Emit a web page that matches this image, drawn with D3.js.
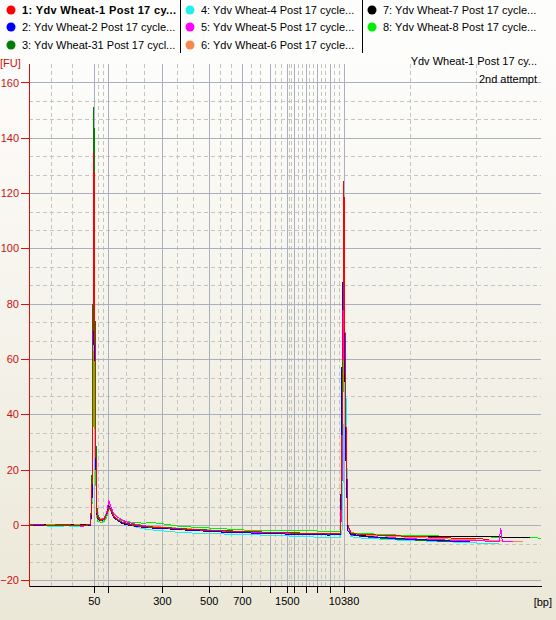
<!DOCTYPE html>
<html>
<head>
<meta charset="utf-8">
<script src="https://cdn.jsdelivr.net/npm/d3@7"></script>
<style>
  html, body { margin: 0; padding: 0; background: #ffffff; }
  svg { display: block; }
  text { font-family: "Liberation Sans", Arial, sans-serif; }
</style>
</head>
<body>
<svg id="chart" width="556" height="620"></svg>
<script>
// Electropherogram overlay: 8 samples, DNA ladder sizes on the x axis (migration time), fluorescence in FU.

// Ladder fragment sizes (bp) and their migration times (s)
const ladderBp   = [50, 100, 300, 500, 700, 1000, 1500, 2000, 3000, 5000, 7000, 10380];
const ladderTime = [28.04, 29.79, 36.54, 42.41, 46.54, 50.04, 52.16, 53.04, 54.54, 55.91, 57.5, 59.25];
const labeledBp  = [50, 300, 500, 700, 1500, 10380];

const fuTicks = [-20, 0, 20, 40, 60, 80, 100, 120, 140, 160];

// Sampling times (s) shared by every trace
const timeSec = [
  20.0, 21.5, 23.0, 24.5, 26.0, 27.0, 27.65, 27.85, 28.05, 28.25, 28.45,
  28.9, 29.3, 29.65, 29.92, 30.2, 30.5, 31.0, 31.6, 32.3, 33.2, 34.2, 35.5, 37.0,
  39.0, 41.5, 44.0, 47.0, 50.0, 53.0, 55.5, 57.5,
  58.9, 59.1, 59.3, 59.5, 59.8, 60.2,
  61.5, 63.5, 66.0, 69.0, 72.0, 75.0, 77.5, 78.7, 78.9, 79.1, 80.4, 81.7, 82.6, 84.0
];

// Fluorescence (FU) per sample at each sampling time; null = trace ended
const wheat1 = [
  0.0, 0.1, -0.2, 0.0, -0.3, -0.1, 0.2, 18, 135, 34, 3.0,
  1.7, 2.0, 3.6, 6.4, 5.1, 3.2, 1.9, 1.0, 0.4, -0.2, -0.6, -0.8, -1.0,
  -1.4, -1.8, -2.1, -2.3, -2.6, -2.8, -3.0, -3.1,
  -3.1, 40, 124.5, 45, 0.0, -3.0,
  -3.4, -3.6, -3.9, -4.2, -4.6, -4.9, -5.1, null, null, null, null, null, null, null
];
const wheat2 = [
  -0.2, 0.0, -0.1, -0.3, 0.0, -0.2, 0.0, 12, 130, 28, 2.5,
  1.5, 1.9, 3.8, 7.0, 5.0, 2.9, 1.6, 0.7, 0.1, -0.4, -0.8, -1.1, -1.3,
  -1.7, -2.1, -2.5, -2.8, -3.1, -3.3, -3.5, -3.6,
  -3.4, 70, 110, 30, -2.0, -3.4,
  -4.0, -4.4, -4.9, -5.3, -5.7, -6.0, null, null, null, null, null, null, null, null
];
const wheat31 = [
  0.1, -0.1, 0.0, 0.2, -0.2, 0.0, 0.3, 22, 151, 40, 4.0,
  1.9, 2.2, 3.9, 6.2, 5.3, 3.4, 2.0, 1.1, 0.5, 0.0, -0.4, -0.7, -0.9,
  -1.3, -1.7, -2.0, -2.3, -2.6, -2.9, -3.1, -3.3,
  -3.2, 60, 105, 35, -2.0, -3.5,
  -4.1, -4.6, -5.1, -5.5, -5.9, -6.1, null, null, null, null, null, null, null, null
];
const wheat4 = [
  -0.3, -0.2, -0.5, -0.3, -0.4, -0.2, 0.0, 10, 128, 30, 2.6,
  1.5, 1.8, 3.4, 6.0, 4.8, 3.1, 1.8, 0.9, 0.2, -0.6, -1.3, -1.8, -2.2,
  -2.7, -3.0, -3.2, -3.4, -3.7, -4.0, -4.3, -4.5,
  -4.4, -1.0, 35, 59, -1.5, -4.2,
  -4.7, -5.0, -5.4, -5.7, -6.0, -6.4, -6.6, -6.7, null, null, null, null, null, null
];
const wheat5 = [
  0.0, -0.2, -0.4, -0.2, -0.5, -0.3, 0.0, 14, 147, 36, 3.2,
  2.0, 2.4, 4.6, 8.8, 6.4, 4.3, 2.8, 1.8, 1.0, 0.4, -0.2, -0.7, -1.0,
  -1.5, -1.9, -2.3, -2.6, -2.9, -3.2, -3.4, -3.5,
  -3.4, 20, 108, 52, -1.0, -3.8,
  -4.0, -4.3, -4.7, -5.1, -5.4, -5.6, -5.8, -5.8, -1.0, -5.9, -5.9, null, null, null
];
const wheat6 = [
  0.1, 0.0, -0.3, 0.1, -0.2, 0.0, 0.1, 16, 138, 35, 3.5,
  2.1, 2.5, 4.4, 7.8, 6.2, 4.4, 2.9, 1.9, 1.1, 0.4, -0.1, -0.5, -0.8,
  -1.2, -1.6, -2.0, -2.3, -2.6, -2.8, -3.0, -3.1,
  -3.0, 35, 116, 50, -1.0, -3.0,
  -3.5, -3.8, -4.2, -4.6, -5.0, -5.3, -5.6, -5.7, -5.7, -5.8, -5.9, -5.9, null, null
];
const wheat7 = [
  0.0, 0.1, -0.1, 0.1, 0.0, 0.1, 0.2, 20, 145, 38, 3.3,
  1.8, 2.1, 3.9, 7.3, 5.4, 3.0, 1.6, 0.6, 0.0, -0.4, -0.7, -1.0, -1.2,
  -1.6, -2.0, -2.3, -2.5, -2.8, -3.0, -3.2, -3.3,
  -3.2, 55, 98, 30, -1.5, -3.2,
  -3.6, -3.8, -4.0, -4.1, -4.2, -4.3, -4.3, -4.3, -4.3, -4.4, -4.4, -4.4, -4.5, null
];
const wheat8 = [
  0.2, 0.0, 0.1, -0.1, 0.2, 0.0, 0.3, 9, 68, 20, 1.5,
  1.0, 1.2, 2.8, 5.9, 4.8, 3.3, 2.2, 1.5, 1.2, 0.9, 0.7, 0.9, 0.3,
  -0.5, -0.9, -1.3, -1.8, -1.8, -2.0, -2.1, -2.3,
  -2.2, 30, 70, 35, -1.0, -2.8,
  -3.0, -3.3, -3.6, -3.8, -4.0, -4.2, -4.3, -4.4, -4.4, -4.4, -4.5, -4.5, -4.6, -4.7
];

const sampleLabels = [
  "1: Ydv Wheat-1 Post 17 cy...",
  "2: Ydv Wheat-2 Post 17 cycle...",
  "3: Ydv Wheat-31 Post 17 cycl...",
  "4: Ydv Wheat-4 Post 17 cycle...",
  "5: Ydv Wheat-5 Post 17 cycle...",
  "6: Ydv Wheat-6 Post 17 cycle...",
  "7: Ydv Wheat-7 Post 17 cycle...",
  "8: Ydv Wheat-8 Post 17 cycle..."
];
const sampleColors = ["#ff0000", "#0000ff", "#008000", "#22eeee", "#ff00ff", "#f5884c", "#000000", "#00f000"];
const sampleValues = [wheat1, wheat2, wheat31, wheat4, wheat5, wheat6, wheat7, wheat8];

const titleLines = ["Ydv Wheat-1 Post 17 cy...", "2nd attempt"];

// ---- layout ----
const W = 556, H = 620;
const plot = { left: 29, right: 541, top: 64, bottom: 586 };

const svg = d3.select("#chart");

const defs = svg.append("defs");
const bg = defs.append("linearGradient").attr("id", "bg").attr("x1", 0).attr("y1", 0).attr("x2", 0).attr("y2", 1);
bg.append("stop").attr("offset", "0%").attr("stop-color", "#ffffff");
bg.append("stop").attr("offset", "100%").attr("stop-color", "#ebe8d8");
svg.append("rect").attr("width", W).attr("height", H).attr("fill", "url(#bg)");

defs.append("clipPath").attr("id", "plotClip").append("rect")
  .attr("x", plot.left).attr("y", plot.top - 2)
  .attr("width", plot.right - plot.left).attr("height", plot.bottom - plot.top + 2);

const x = d3.scaleLinear().domain([20, 84]).range([plot.left + 0.5, plot.right + 0.5]);
const y = d3.scaleLinear().domain([-22.2, 166.5]).range([plot.bottom + 0.5, plot.top + 0.5]);

// ---- grid ----
const grid = svg.append("g").attr("shape-rendering", "crispEdges");

// minor lines split every interval between neighbouring major lines into thirds
function thirds(bounds) {
  const out = [];
  for (let i = 0; i < bounds.length - 1; i++) {
    const a = bounds[i], b = bounds[i + 1];
    out.push(a + (b - a) / 3, a + 2 * (b - a) / 3);
  }
  return out;
}
const xMinor = thirds([x.domain()[0], ...ladderTime, x.domain()[1]]);
const yMinor = thirds(fuTicks).filter(v => v > y.domain()[0] && v < y.domain()[1]);

grid.selectAll(".xminor").data(xMinor).join("line")
  .attr("x1", d => Math.round(x(d)) + 0.5).attr("x2", d => Math.round(x(d)) + 0.5)
  .attr("y1", plot.top).attr("y2", plot.bottom)
  .attr("stroke", "#c4c4c0").attr("stroke-dasharray", "4,3");
grid.selectAll(".yminor").data(yMinor).join("line")
  .attr("x1", plot.left).attr("x2", plot.right)
  .attr("y1", d => Math.round(y(d)) + 0.5).attr("y2", d => Math.round(y(d)) + 0.5)
  .attr("stroke", "#c4c4c0").attr("stroke-dasharray", "4,3");
grid.selectAll(".xmajor").data(ladderTime).join("line")
  .attr("x1", d => Math.round(x(d)) + 0.5).attr("x2", d => Math.round(x(d)) + 0.5)
  .attr("y1", plot.top).attr("y2", plot.bottom)
  .attr("stroke", "#a9b1be");
grid.selectAll(".ymajor").data(fuTicks).join("line")
  .attr("x1", plot.left).attr("x2", plot.right)
  .attr("y1", d => Math.round(y(d)) + 0.5).attr("y2", d => Math.round(y(d)) + 0.5)
  .attr("stroke", "#a9b1be");

// ---- traces (sample 1 drawn last, on top) ----
const traces = svg.append("g").attr("clip-path", "url(#plotClip)");
for (let s = sampleValues.length - 1; s >= 0; s--) {
  const vals = sampleValues[s];
  const pts = timeSec.map((t, i) => [t, vals[i]]);
  const line = d3.line()
    .defined(d => d[1] !== null && d[1] !== undefined)
    .x(d => x(d[0])).y(d => y(d[1]));
  traces.append("path")
    .attr("d", line(pts))
    .attr("fill", "none")
    .attr("stroke", sampleColors[s])
    .attr("stroke-width", 1)
    .attr("shape-rendering", "crispEdges");
}

// ---- axes ----
const xAxis = d3.axisBottom(x)
  .tickValues(ladderTime)
  .tickFormat((t, i) => labeledBp.includes(ladderBp[i]) ? String(ladderBp[i]) : "")
  .tickSize(7).tickSizeOuter(0).tickPadding(4);
const gx = svg.append("g").attr("transform", `translate(0,${plot.bottom})`)
  .attr("shape-rendering", "crispEdges").call(xAxis);
gx.select(".domain").attr("stroke", "#000").attr("d", `M${plot.left},0.5H${plot.right + 1}`);
gx.selectAll(".tick line").attr("stroke", "#000");
gx.selectAll(".tick text").attr("fill", "#000").attr("font-size", 11)
  .attr("font-family", "Liberation Sans, Arial, sans-serif");

const yAxis = d3.axisLeft(y)
  .tickValues(fuTicks)
  .tickSize(8).tickSizeOuter(0).tickPadding(2);
const gy = svg.append("g").attr("transform", `translate(${plot.left},0)`)
  .attr("shape-rendering", "crispEdges").call(yAxis);
gy.select(".domain").attr("stroke", "#dd1010").attr("d", `M0.5,${plot.top}V${plot.bottom + 1}`);
gy.selectAll(".tick line").attr("stroke", "#dd1010");
gy.selectAll(".tick text").attr("fill", "#cc1010").attr("font-size", 11)
  .attr("font-family", "Liberation Sans, Arial, sans-serif");

svg.append("text").attr("x", 0).attr("y", 67).attr("font-size", 11).attr("fill", "#cc1010").text("[FU]");
svg.append("text").attr("x", 552).attr("y", 606).attr("font-size", 11).attr("fill", "#000")
  .attr("text-anchor", "end").text("[bp]");

svg.selectAll(".title").data(titleLines).join("text")
  .attr("x", 537).attr("y", (d, i) => 65 + i * 18)
  .attr("text-anchor", "end").attr("font-size", 11).attr("fill", "#000")
  .text(d => d);

// ---- legend ----
const legend = svg.append("g");
legend.append("rect").attr("x", 0).attr("y", 0).attr("width", W).attr("height", 55).attr("fill", "#fdfdfc");
const colX = [11, 190, 372];
const rowY = [10, 27, 45];
const dividers = [180.5, 362.5];
legend.selectAll(".div").data(dividers).join("line")
  .attr("x1", d => d).attr("x2", d => d).attr("y1", 0).attr("y2", 53)
  .attr("stroke", "#000").attr("shape-rendering", "crispEdges");
const items = legend.selectAll(".item").data(sampleLabels).join("g")
  .attr("transform", (d, i) => `translate(${colX[Math.floor(i / 3)]},${rowY[i % 3]})`);
items.append("circle").attr("r", 4.5).attr("fill", (d, i) => sampleColors[i]);
items.append("text").attr("x", 11).attr("y", 4)
  .attr("font-size", 11).attr("fill", "#000")
  .attr("font-weight", (d, i) => i === 0 ? "bold" : "normal")
  .attr("textLength", (d, i) => i === 0 ? 154 : null)
  .attr("lengthAdjust", "spacing")
  .text(d => d);
</script>
</body>
</html>
